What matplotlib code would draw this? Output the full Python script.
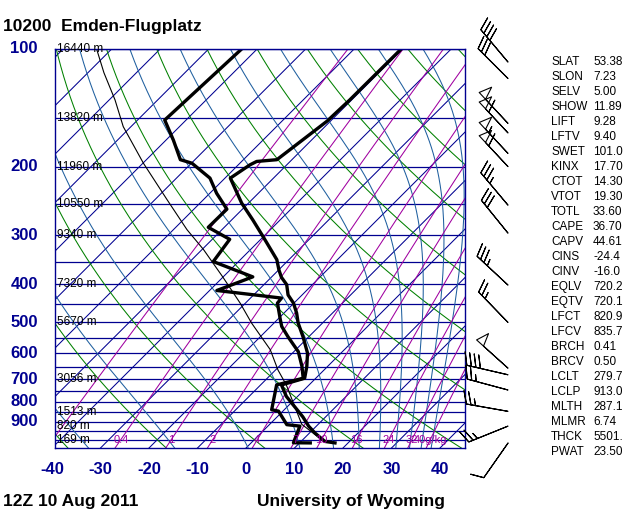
import numpy as np
import matplotlib
matplotlib.use("Agg")
import matplotlib.pyplot as plt
import matplotlib.transforms as mtransforms

plt.rcParams['font.family'] = ['Liberation Sans', 'DejaVu Sans']

# sounding (hPa, deg C), surface first
temp_p = [1019, 1010, 961, 923, 874, 823, 775, 724, 710, 696, 649, 600, 545, 503,
          474, 447, 426, 401, 384, 368, 346, 302, 274, 248, 214, 198, 194, 192,
          153, 135, 100]
temp_c = [17.3, 14.9, 11.1, 8.4, 5.3, 1.5, -2.3, -5.7, -4.0, -2.3, -4.3, -6.9, -11.2,
          -15.0, -17.4, -20.1, -22.9, -25.3, -27.9, -29.9, -32.5, -40.1, -45.6, -51.4,
          -58.9, -57.6, -56.9, -53.1, -50.7, -50.4, -50.3]

dwpt_p = [1019, 1018, 923, 915, 845, 838, 724, 696, 649, 595, 545, 513, 494, 447,
          434, 415, 383, 350, 307, 286, 257, 234, 214, 196, 192, 171, 152, 100]
dwpt_c = [12.2, 8.7, 6.6, 3.6, -0.9, -2.6, -6.7, -2.6, -5.3, -9.1, -14.3, -17.7, -19.3,
          -23.4, -23.6, -38.5, -33.9, -45.2, -46.4, -53.3, -53.2, -58.6, -63.1, -69.9,
          -73.0, -78.5, -84.4, -83.2]

# lifted parcel (thin line)
parcel_p = [1000, 913, 724, 663, 588, 503, 447, 383, 326, 290, 243, 196, 158, 135, 115, 100]
parcel_c = [13.9, 6.6, -4.7, -9.5, -15.3, -24.6, -31.1, -40.1, -49.7, -57.2, -67.5,
            -79.9, -91.6, -98.8, -106.7, -113.1]

# winds
wind_p = [1020, 923, 846, 746, 682, 656, 501, 402, 296, 251, 200, 185, 164, 155, 119, 108]
wind_dir = [215, 248, 280, 285, 283, 312, 316, 313, 321, 320, 317, 317, 317, 317, 315, 320]
wind_kt = [10, 25, 25, 25, 40, 50, 25, 35, 30, 35, 60, 55, 60, 50, 30, 40]

# standard level heights
height_p = [100, 150, 200, 250, 300, 400, 500, 700, 850, 925, 1000]
height_lbl = ['16440 m', '13820 m', '11960 m', '10550 m', '9340 m', '7320 m',
              '5670 m', '3056 m', '1513 m', '820 m', '169 m']

isobars = [100, 150, 200, 250, 300, 350, 400, 450, 500, 550, 600, 650, 700, 750,
           800, 850, 900, 950, 1000]
p_labels = [100, 200, 300, 400, 500, 600, 700, 800, 900]
t_labels = [-40, -30, -20, -10, 0, 10, 20, 30, 40]

mixr_g = [0.1, 0.4, 1, 2, 4, 7, 10, 16, 24, 32, 40]
mixr_lbl = ['', '0.4', '1', '2', '4', '7', '10', '16', '24', '32', '40g/kg']
dry_theta_c = list(range(-40, 201, 20))
moist_thetae_k = [238, 258, 280, 302, 322, 342, 362, 382, 402, 422, 442]

index_names = ['SLAT', 'SLON', 'SELV', 'SHOW', 'LIFT', 'LFTV', 'SWET', 'KINX', 'CTOT',
               'VTOT', 'TOTL', 'CAPE', 'CAPV', 'CINS', 'CINV', 'EQLV', 'EQTV', 'LFCT',
               'LFCV', 'BRCH', 'BRCV', 'LCLT', 'LCLP', 'MLTH', 'MLMR', 'THCK', 'PWAT']
index_vals = ['53.38', '7.23', '5.00', '11.89', '9.28', '9.40', '101.0', '17.70', '14.30',
              '19.30', '33.60', '36.70', '44.61', '-24.4', '-16.0', '720.2', '720.1', '820.9',
              '835.7', '0.41', '0.50', '279.7', '913.0', '287.1', '6.74', '5501.', '23.50']

# colours
NAVY = '#000090'
DRY = '#008000'
MOIST = '#1f5f9f'
MIXR = '#a000a0'

P_BOT, P_TOP = 1050.0, 100.0
SKEW = 35.0


def skew(t, p):
    return np.asarray(t, float) + SKEW * np.log(P_BOT / np.asarray(p, float))


def sat_thetae(tc, p):
    tk = tc + 273.15
    es = 6.112 * np.exp(17.67 * tc / (tc + 243.5))
    es = np.minimum(es, 0.5 * p)
    w = 622.0 * es / (p - es)
    th = tk * (1000.0 / p) ** (0.2854 * (1 - 0.00028 * w))
    return th * np.exp((3.376 / tk - 0.00254) * w * (1 + 0.00081 * w))


def moist_temp(thetae, p):
    lo = np.full_like(p, -160.0)
    hi = np.full_like(p, 60.0)
    for _ in range(60):
        mid = 0.5 * (lo + hi)
        up = sat_thetae(mid, p) > thetae
        hi = np.where(up, mid, hi)
        lo = np.where(up, lo, mid)
    return 0.5 * (lo + hi)


def mixr_td(wg, p):
    e = p * wg / (622.0 + wg)
    a = np.log(e / 6.112)
    return 243.5 * a / (17.67 - a)


fig = plt.figure(figsize=(6.4, 5.12), dpi=100)
fig.patch.set_facecolor('white')
ax = fig.add_axes([55 / 640, 64 / 512, 410 / 640, 399 / 512])
ax.set_yscale('log')
ax.set_ylim(P_BOT, P_TOP)
ax.set_xlim((55 - 246) / 4.85, (465 - 246) / 4.85)
ax.set_xticks([])
ax.set_yticks([])
ax.set_yticks([], minor=True)
for s in ax.spines.values():
    s.set_color(NAVY)
    s.set_linewidth(1.0)

pp = np.geomspace(P_BOT, P_TOP, 200)
lw = 0.75

for p in isobars:
    ax.axhline(p, color=NAVY, lw=0.9)

for t0 in range(-130, 50, 10):
    ax.plot(skew(np.full_like(pp, t0), pp), pp, color=NAVY, lw=lw)

for th in dry_theta_c:
    t = (th + 273.15) * (pp / 1000.0) ** 0.286 - 273.15
    ax.plot(skew(t, pp), pp, color=DRY, lw=lw)

for the in moist_thetae_k:
    t = moist_temp(float(the), pp)
    ax.plot(skew(t, pp), pp, color=MOIST, lw=lw)

for wg, lbl in zip(mixr_g, mixr_lbl):
    ax.plot(skew(mixr_td(wg, pp), pp), pp, color=MIXR, lw=lw)
    if lbl:
        ax.text(skew(mixr_td(wg, 1000.0), 1000.0), 1000, lbl, color=MIXR,
                fontsize=8, ha='center', va='center')

for p, lbl in zip(height_p, height_lbl):
    ax.text(0.005, p, lbl, transform=mtransforms.blended_transform_factory(ax.transAxes, ax.transData),
            fontsize=8.5, ha='left', va='center', color='black')

# sounding
ax.plot(skew(parcel_c, parcel_p), parcel_p, color='black', lw=0.8)
ax.plot(skew(temp_c, temp_p), temp_p, color='black', lw=2.4)
ax.plot(skew(dwpt_c, dwpt_p), dwpt_p, color='black', lw=2.4)

# axis labels
ytr = mtransforms.blended_transform_factory(ax.transAxes, ax.transData)
for p in p_labels:
    ax.text(-0.0415, p, str(p), transform=ytr, ha='right', va='center',
            fontsize=12, weight='bold', color=NAVY)
xtr = mtransforms.blended_transform_factory(ax.transData, ax.transAxes)
for t in t_labels:
    ax.text(t, -0.055, str(t), transform=xtr, ha='center', va='center',
            fontsize=12, weight='bold', color=NAVY, clip_on=False)

fig.text(3 / 640, 1 - 30.7 / 512, '10200  Emden-Flugplatz', ha='left', va='baseline',
         fontsize=12.5, weight='bold')
fig.text(3 / 640, 6 / 512, '12Z 10 Aug 2011', ha='left', va='baseline',
         fontsize=12.5, weight='bold')
fig.text(257 / 640, 6 / 512, 'University of Wyoming', ha='left', va='baseline',
         fontsize=12.5, weight='bold')

for i, (n, v) in enumerate(zip(index_names, index_vals)):
    y = 1 - (62.3 + 14.98 * i) / 512
    fig.text(551 / 640, y, n, ha='left', va='center', fontsize=8.5)
    fig.text(593 / 640, y, v, ha='left', va='center', fontsize=8.5)

# wind barbs
bax = fig.add_axes([470 / 640, 64 / 512, 75 / 640, 399 / 512])
bax.set_yscale('log')
bax.set_ylim(P_BOT, P_TOP)
bax.set_xlim(0, 75)
bax.axis('off')
d = np.radians(wind_dir)
spd = np.asarray(wind_kt, float)
u = -spd * np.sin(d)
v = -spd * np.cos(d)
bax.barbs(np.full(len(wind_p), 38.0), wind_p, u, v, length=7.8, barbcolor='k',
          flagcolor='none', linewidth=0.8, clip_on=False,
          sizes=dict(spacing=0.11, height=0.3, width=0.22))

fig.savefig('out.png', dpi=100)
